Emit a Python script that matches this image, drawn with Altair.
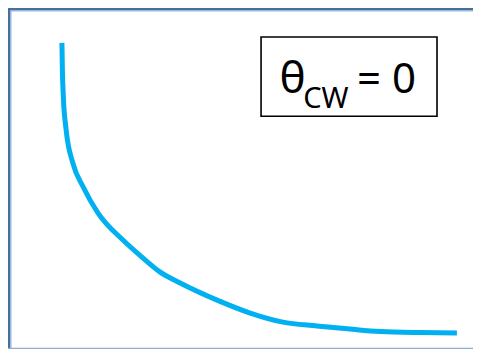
import altair as alt
import pandas as pd

# Curve (arbitrary units, no axes in the original)
curve_x = [1.14, 1.15, 1.17, 1.23, 1.37, 1.59, 1.90, 2.43, 2.85, 3.21, 3.64,
           4.42, 5.12, 5.81, 6.53, 7.23, 7.87, 8.71, 9.49]
curve_y = [9.00, 8.22, 7.45, 6.50, 5.56, 4.87, 4.13, 3.35, 2.84, 2.44, 2.12,
           1.63, 1.26, 1.00, 0.89, 0.80, 0.73, 0.70, 0.69]

# Annotation box and its label parts
box_x = [5.35]
box_x2 = [9.07]
box_y = [9.17]
box_y2 = [6.90]
label_text = ["θ", "CW", "= 0"]
label_x = [5.74, 6.24, 7.38]
label_y = [7.56, 7.14, 7.56]
label_size = [44, 29, 42]

W, H = 465, 341
xs = alt.Scale(domain=[0, 9.831], nice=False, zero=False)
ys = alt.Scale(domain=[0.229, 10], nice=False, zero=False)

curve_df = pd.DataFrame({"x": curve_x, "y": curve_y})
box_df = pd.DataFrame({"x": box_x, "x2": box_x2, "y": box_y, "y2": box_y2})
label_df = pd.DataFrame({"t": label_text, "x": label_x, "y": label_y, "s": label_size})

one = pd.DataFrame({"a": [0]})
frame_left = alt.Chart(one).mark_rule(
    color="#41719C", strokeWidth=4
).encode(x=alt.value(0.5), y=alt.value(0), y2=alt.value(H))
frame_left_in = alt.Chart(one).mark_rule(
    color="#9DB5DA", strokeWidth=1
).encode(x=alt.value(3), y=alt.value(2.5), y2=alt.value(H))
frame_top = alt.Chart(one).mark_rule(
    color="#41719C", strokeWidth=4
).encode(y=alt.value(0.5), x=alt.value(0), x2=alt.value(W))
frame_top_in = alt.Chart(one).mark_rule(
    color="#9DB5DA", strokeWidth=1
).encode(y=alt.value(3), x=alt.value(2.5), x2=alt.value(W))
frame_bottom = alt.Chart(one).mark_rule(
    color="#8FAADC", strokeWidth=1.2
).encode(y=alt.value(H - 0.6), x=alt.value(0), x2=alt.value(W))

line = alt.Chart(curve_df).mark_line(
    color="#00B0F0", strokeWidth=5, interpolate="monotone", strokeCap="butt"
).encode(
    x=alt.X("x:Q", scale=xs, axis=None),
    y=alt.Y("y:Q", scale=ys, axis=None),
)

box = alt.Chart(box_df).mark_rect(
    fill="white", stroke="black", strokeWidth=1.6
).encode(
    x=alt.X("x:Q", scale=xs, axis=None),
    x2="x2:Q",
    y=alt.Y("y:Q", scale=ys, axis=None),
    y2="y2:Q",
)

labels = alt.Chart(label_df).mark_text(
    align="left", baseline="alphabetic", font="Noto Sans", color="black"
).encode(
    x=alt.X("x:Q", scale=xs, axis=None),
    y=alt.Y("y:Q", scale=ys, axis=None),
    text="t:N",
    size=alt.Size("s:Q", scale=None, legend=None),
)

chart = alt.layer(
    frame_left, frame_top, frame_left_in, frame_top_in, frame_bottom, line, box, labels
).properties(
    width=W, height=H, padding=0, autosize=alt.AutoSizeParams(type="none"),
    background="white",
).configure_view(stroke=None)

chart.save("out.html", embed_options={"renderer": "svg", "actions": False})
